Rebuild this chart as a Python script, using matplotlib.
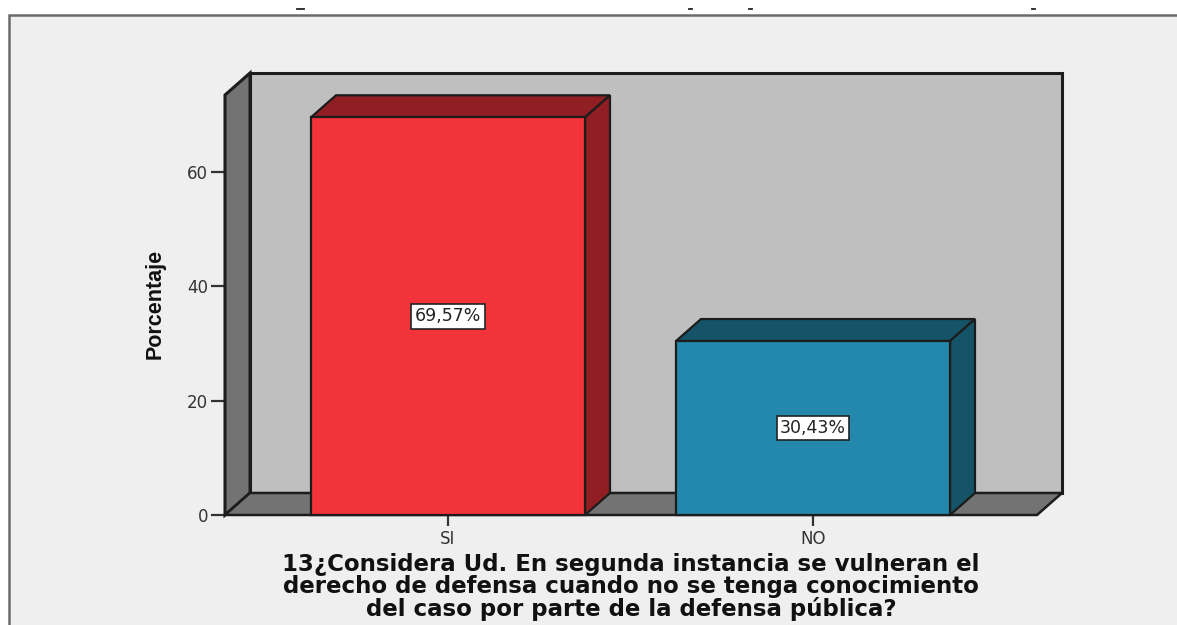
import matplotlib

matplotlib.use("Agg")

import matplotlib.pyplot as plt
from matplotlib.lines import Line2D
from matplotlib.patches import Polygon, Rectangle

W = 1177
H = 625

categories = ["SI", "NO"]
percentages = [69.57, 30.43]
value_labels = ["69,57%", "30,43%"]
y_ticks = [0, 20, 40, 60]
face_colors = ["#f2333a", "#2388ac"]
side_colors = ["#911e22", "#155468"]
x_title = (
    "13¿Considera Ud. En segunda instancia se vulneran el\n"
    "derecho de defensa cuando no se tenga conocimiento\n"
    "del caso por parte de la defensa pública?"
)

EDGE = "#1c1c1c"
PX_X = 365.0  # pixels per category
PX_Y = 343.0 / 60  # pixels per percent
DX = 25 / PX_X  # 3d depth in data units
DY = 22 / PX_Y
BAR_W = 274 / PX_X
Y_TOP = (515 - 95) / PX_Y

fig = plt.figure(figsize=(W / 100, H / 100), dpi=100, facecolor="white")


def fx(px):
    return px / W


def fy(py):
    return 1 - py / H


# outer panel, runs off the right and bottom of the picture
fig.add_artist(Rectangle((fx(9), fy(H + 10)), (W + 20) / W, (H + 10 - 15) / H,
                         transform=fig.transFigure, facecolor="#efefef",
                         edgecolor="#6a6a6a", linewidth=1.8, zorder=-5))

# what is left of the cropped title
for x0, x1 in [(297, 304), (689, 692), (749, 752), (1032, 1035)]:
    fig.add_artist(Line2D([fx(x0), fx(x1)], [fy(8.5), fy(8.5)], color="#222222", linewidth=1.3, zorder=-4))

ax = fig.add_axes([fx(225), fy(515), (1037 - 225) / W, (515 - 95) / H])
ax.set_xlim(-223 / PX_X, 1 + 224 / PX_X)
ax.set_ylim(0, Y_TOP)
ax.patch.set_visible(False)
for s in ax.spines.values():
    s.set_visible(False)

x_l, x_r = ax.get_xlim()


def poly(pts, color, z, lw=1.6):
    ax.add_patch(Polygon(pts, closed=True, facecolor=color, edgecolor=EDGE, linewidth=lw,
                         joinstyle="miter", clip_on=False, zorder=z))


# back wall, left wall, floor
poly([(x_l + DX, DY), (x_r + DX, DY), (x_r + DX, Y_TOP + DY), (x_l + DX, Y_TOP + DY)], "#bfbfbf", 1, 2.2)
poly([(x_l, 0), (x_l + DX, DY), (x_l + DX, Y_TOP + DY), (x_l, Y_TOP)], "#737373", 2, 2.2)
poly([(x_l, 0), (x_r, 0), (x_r + DX, DY), (x_l + DX, DY)], "#737373", 2, 1.8)

for i, val in enumerate(percentages):
    left = i - BAR_W / 2
    right = i + BAR_W / 2
    poly([(left, val), (right, val), (right + DX, val + DY), (left + DX, val + DY)], side_colors[i], 3)
    poly([(right, 0), (right + DX, DY), (right + DX, val + DY), (right, val)], side_colors[i], 3)
    poly([(left, 0), (right, 0), (right, val), (left, val)], face_colors[i], 4)
    ax.text(i, val / 2, value_labels[i], ha="center", va="center", fontsize=12.5,
            family="DejaVu Sans", color="#222222", zorder=6,
            bbox=dict(boxstyle="square,pad=0.2", facecolor="white", edgecolor="#222222", linewidth=1.2))

ax.set_xticks(range(len(categories)), categories)
ax.set_yticks(y_ticks)
ax.tick_params(axis="both", length=10, width=1.6, color="#333333", labelcolor="#333333",
               labelsize=12, pad=2)
ax.tick_params(axis="x", length=8, pad=3)
for label in ax.get_xticklabels() + ax.get_yticklabels():
    label.set_family("DejaVu Sans")

fig.text(fx(155), fy(304), "Porcentaje", rotation=90, ha="center", va="center", fontsize=15.5,
         fontweight="bold", family=["Liberation Sans Narrow", "Liberation Sans"], color="#111111")
fig.text(fx(631), fy(587), x_title, ha="center", va="center", fontsize=16.5, fontweight="bold",
         family="DejaVu Sans", color="#111111", linespacing=0.92)

fig.savefig("out.png", dpi=100, facecolor="white")
